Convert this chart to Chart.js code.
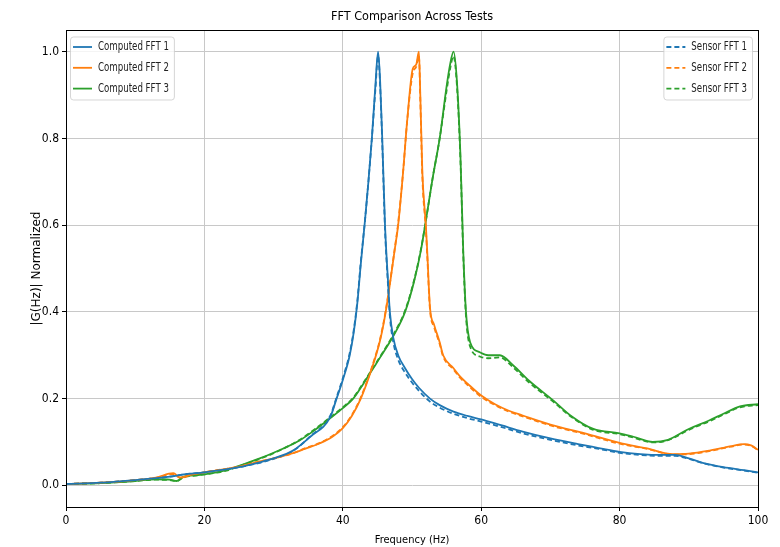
<!DOCTYPE html>
<html>
<head>
<meta charset="utf-8">
<script src="https://cdn.jsdelivr.net/npm/chart.js@4/dist/chart.umd.min.js"></script>
<style>
  html, body { margin: 0; padding: 0; background: #fff; }
  #wrap { width: 780px; height: 547px; position: relative; }
</style>
</head>
<body>
<div id="wrap"><canvas id="c" width="780" height="547"></canvas></div>
<script>
// ---- Data ----
const freq1 = [0,5,10,15,17,20,25,28,30,32.8,35.3,38.2,39.1,40,41,41.6,42.1,42.6,43.2,43.7,44.2,44.7,45.1,45.4,45.7,46.1,46.5,46.8,47.3,48,49,50,51,52.6,54,56,58,60,63,66,70,74,77,80,83,86,88,90,92,95,98,100];
const computed1 = [0.003,0.006,0.012,0.02,0.025,0.03,0.042,0.053,0.062,0.08,0.112,0.158,0.20,0.243,0.30,0.355,0.42,0.51,0.61,0.70,0.80,0.92,1.0,0.93,0.80,0.60,0.48,0.40,0.34,0.30,0.27,0.245,0.225,0.20,0.185,0.17,0.16,0.152,0.138,0.124,0.108,0.095,0.086,0.077,0.072,0.070,0.070,0.062,0.052,0.042,0.035,0.030];
const sensor1   = [0.003,0.006,0.012,0.02,0.025,0.03,0.042,0.052,0.061,0.079,0.113,0.161,0.203,0.247,0.305,0.36,0.425,0.515,0.61,0.70,0.80,0.91,0.99,0.92,0.79,0.59,0.47,0.39,0.33,0.29,0.26,0.237,0.218,0.193,0.179,0.165,0.155,0.147,0.134,0.12,0.105,0.092,0.084,0.075,0.070,0.068,0.068,0.061,0.051,0.041,0.034,0.029];

const freq2 = [0,5,10,13,15.5,16.5,18,20,25,28,30,32.8,34.5,36.7,38.5,40,41.3,42.6,44,45.4,46.2,47.5,48,48.7,49.3,50.1,50.6,51,51.2,51.5,52,52.2,52.6,53.2,54,54.5,56,57,58,60,62,64,66,70,75,80,84,87.7,90,93,96,98,99,100];
const computed2 = [0.003,0.006,0.012,0.018,0.028,0.018,0.024,0.03,0.043,0.055,0.062,0.074,0.084,0.097,0.112,0.132,0.16,0.20,0.26,0.335,0.40,0.543,0.60,0.72,0.84,0.96,0.97,1.0,0.90,0.72,0.60,0.54,0.41,0.37,0.33,0.30,0.27,0.25,0.235,0.207,0.187,0.172,0.161,0.14,0.12,0.098,0.085,0.072,0.073,0.08,0.09,0.095,0.092,0.082];
const sensor2   = [0.003,0.006,0.012,0.017,0.026,0.017,0.023,0.03,0.043,0.055,0.062,0.074,0.085,0.098,0.114,0.134,0.162,0.203,0.263,0.338,0.403,0.545,0.605,0.72,0.84,0.95,0.965,0.99,0.89,0.71,0.59,0.53,0.405,0.365,0.326,0.297,0.267,0.247,0.232,0.204,0.185,0.17,0.159,0.138,0.118,0.096,0.084,0.071,0.072,0.079,0.089,0.094,0.091,0.081];

const freq3 = [0,5,10,13,15,16,17,18.4,20,23.2,25,28,30,33.8,36,38.2,40,41.5,43,44.4,45.4,47.5,49,50.3,51.3,52,53,54,55,55.5,56,56.5,57,57.4,57.8,58.4,59.8,61,62.7,64.6,67,70.4,73,76.2,80,82,84.8,87,90,93,95,97.4,100];
const computed3 = [0.003,0.005,0.01,0.014,0.013,0.01,0.02,0.023,0.025,0.035,0.045,0.062,0.075,0.104,0.128,0.155,0.178,0.20,0.235,0.27,0.295,0.35,0.40,0.47,0.543,0.61,0.71,0.80,0.92,0.97,1.0,0.93,0.76,0.543,0.40,0.33,0.307,0.30,0.30,0.277,0.24,0.196,0.16,0.13,0.12,0.112,0.10,0.105,0.13,0.15,0.165,0.182,0.187];
const sensor3   = [0.003,0.005,0.01,0.013,0.012,0.01,0.019,0.022,0.025,0.034,0.044,0.061,0.074,0.105,0.13,0.157,0.18,0.202,0.237,0.272,0.297,0.353,0.403,0.473,0.545,0.61,0.71,0.80,0.91,0.96,0.99,0.92,0.75,0.535,0.39,0.32,0.297,0.293,0.295,0.272,0.236,0.193,0.158,0.128,0.118,0.11,0.099,0.104,0.128,0.148,0.163,0.18,0.185];

const computedLabels = ["Computed FFT 1","Computed FFT 2","Computed FFT 3"];
const sensorLabels = ["Sensor FFT 1","Sensor FFT 2","Sensor FFT 3"];
const xTicks = [0,20,40,60,80,100];
const yTicks = [0.0,0.2,0.4,0.6,0.8,1.0];
const titleText = 'FFT Comparison Across Tests';

const colors = ["#1f77b4","#ff7f0e","#2ca02c"];
const pts = (f, v) => f.map((x, i) => ({x: x, y: v[i]}));

const FONT = "'DejaVu Sans Condensed', 'Liberation Sans Narrow', sans-serif";
const LEGEND_FONT = "12px 'DejaVu Sans Condensed', sans-serif";
const LEGEND_SQUEEZE = 0.8;

function lineDs(label, f, v, color, dashed) {
  return {
    label: label,
    data: pts(f, v),
    borderColor: color,
    backgroundColor: color,
    borderWidth: 1.8,
    borderDash: dashed ? [5, 3] : [],
    pointRadius: 0,
    fill: false,
    cubicInterpolationMode: 'monotone'
  };
}

const datasets = [
  lineDs(computedLabels[0], freq1, computed1, colors[0], false),
  lineDs(computedLabels[1], freq2, computed2, colors[1], false),
  lineDs(computedLabels[2], freq3, computed3, colors[2], false),
  lineDs(sensorLabels[0], freq1, sensor1, colors[0], true),
  lineDs(sensorLabels[1], freq2, sensor2, colors[1], true),
  lineDs(sensorLabels[2], freq3, sensor3, colors[2], true)
];

function legendWidth(ctx, items) {
  ctx.save();
  ctx.font = LEGEND_FONT;
  let tw = 0;
  items.forEach(it => { tw = Math.max(tw, ctx.measureText(it.label).width * LEGEND_SQUEEZE); });
  ctx.restore();
  return 28 + tw + 5;
}

function drawLegend(ctx, x, y, items) {
  const w = legendWidth(ctx, items);
  const h = 63;
  ctx.save();
  ctx.font = LEGEND_FONT;
  ctx.globalAlpha = 0.8;
  ctx.fillStyle = "#fff";
  ctx.strokeStyle = "#cccccc";
  ctx.lineWidth = 1;
  ctx.beginPath();
  if (ctx.roundRect) ctx.roundRect(x + 0.5, y + 0.5, w, h, 3); else ctx.rect(x + 0.5, y + 0.5, w, h);
  ctx.fill();
  ctx.stroke();
  ctx.globalAlpha = 1;
  items.forEach((it, i) => {
    const cy = y + 10.5 + i * 20.8;
    ctx.strokeStyle = it.color;
    ctx.lineWidth = 1.8;
    ctx.setLineDash(it.dashed ? [5, 3] : []);
    ctx.beginPath();
    ctx.moveTo(x + 3, cy);
    ctx.lineTo(x + 22, cy);
    ctx.stroke();
    ctx.setLineDash([]);
    ctx.fillStyle = "#222";
    ctx.textBaseline = "middle";
    ctx.textAlign = "left";
    ctx.save();
    ctx.translate(x + 28, cy);
    ctx.scale(LEGEND_SQUEEZE, 1);
    ctx.fillText(it.label, 0, 0);
    ctx.restore();
  });
  ctx.restore();
}

const framePlugin = {
  id: 'frameAndLegends',
  afterDraw(chart) {
    const ctx = chart.ctx;
    const a = chart.chartArea;
    ctx.save();
    ctx.strokeStyle = "#000";
    ctx.lineWidth = 1;
    ctx.strokeRect(Math.round(a.left) + 0.5, Math.round(a.top) + 0.5, Math.round(a.right - a.left), Math.round(a.bottom - a.top));
    // title centred over the plot area
    ctx.fillStyle = "#000";
    ctx.font = "12.5px " + FONT;
    ctx.textAlign = "center";
    ctx.textBaseline = "middle";
    ctx.fillText(titleText, (a.left + a.right) / 2, 17);
    ctx.restore();
    const ds = chart.data.datasets;
    const left = [0,1,2].map(i => ({label: ds[i].label, color: ds[i].borderColor, dashed: false}));
    const right = [3,4,5].map(i => ({label: ds[i].label, color: ds[i].borderColor, dashed: true}));
    drawLegend(ctx, a.left + 4, a.top + 6.5, left);
    const w = legendWidth(ctx, right);
    drawLegend(ctx, a.right - 6 - w, a.top + 6.5, right);
  }
};

new Chart(document.getElementById('c'), {
  type: 'line',
  data: { datasets: datasets },
  options: {
    responsive: false,
    animation: false,
    maintainAspectRatio: false,
    layout: { padding: { left: 0, right: 22, top: 30, bottom: 0 } },
    plugins: {
      legend: { display: false },
      tooltip: { enabled: false },
      title: { display: false }
    },
    scales: {
      x: {
        type: 'linear',
        min: 0, max: 100,
        afterBuildTicks(scale) { scale.ticks = xTicks.map(v => ({value: v})); },
        afterFit(scale) { scale.height = 40; },
        ticks: { color: '#000', font: { family: FONT, size: 12 }, padding: 3, maxRotation: 0,
                 callback: v => String(v) },
        grid: { color: '#c8c8c8', lineWidth: 1, tickLength: 4, tickColor: '#000' },
        border: { display: true, color: '#000', width: 1 },
        title: { display: true, text: 'Frequency (Hz)', color: '#000',
                 font: { family: FONT, size: 11 }, padding: { top: 2, bottom: 0 } }
      },
      y: {
        type: 'linear',
        min: -0.05, max: 1.05,
        afterBuildTicks(scale) { scale.ticks = yTicks.map(v => ({value: v})); },
        afterFit(scale) { scale.width = 66; },
        ticks: { color: '#000', font: { family: FONT, size: 12 }, padding: 3,
                 callback: v => Number(v).toFixed(1) },
        grid: { color: '#c8c8c8', lineWidth: 1, tickLength: 4, tickColor: '#000' },
        border: { display: true, color: '#000', width: 1 },
        title: { display: true, text: '|G(Hz)| Normalized', color: '#000',
                 font: { family: "'DejaVu Sans', sans-serif", size: 12 }, padding: { top: 30, bottom: 0 } }
      }
    }
  },
  plugins: [framePlugin]
});
</script>
</body>
</html>
